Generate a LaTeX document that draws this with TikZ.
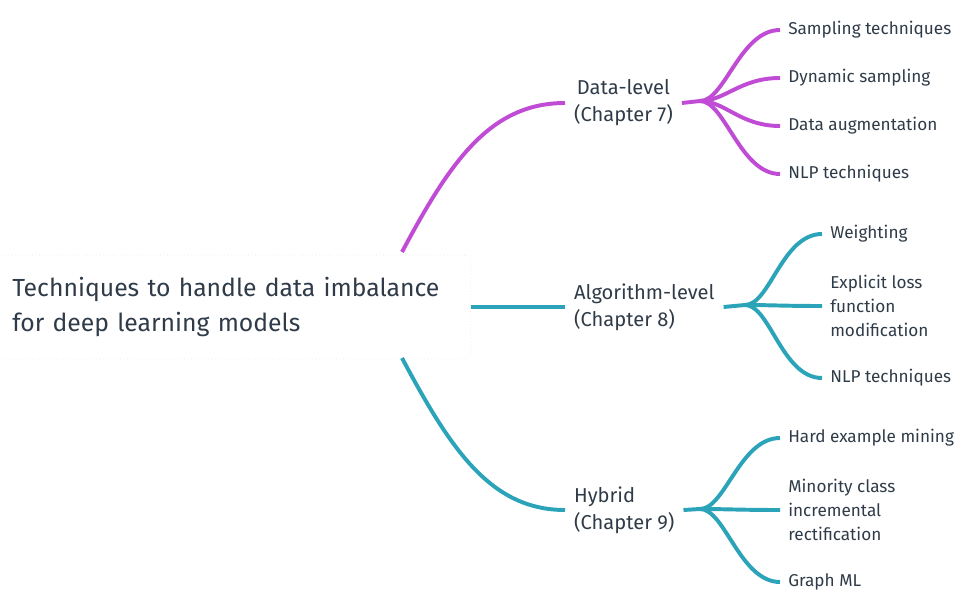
\documentclass[tikz,border=0pt]{standalone}
\usepackage{fontspec}
\setmainfont{Fira Sans}
\usetikzlibrary{positioning,calc}

\definecolor{datacol}{HTML}{C04BD5}
\definecolor{algocol}{HTML}{2BA3B9}
\definecolor{inkcol}{HTML}{2F3B48}

\begin{document}
\begin{tikzpicture}[x=0.025cm, y=-0.025cm,
    every node/.style={text=inkcol},
    rootbox/.style={draw=gray!25, dotted, rounded corners=4pt, anchor=west, align=left,
      text width=11.0cm, inner xsep=0.45cm, minimum height=2.6cm,
      font=\fontsize{17.6}{25.5}\selectfont},
    midbox/.style={anchor=west, align=left, inner xsep=0.22cm, font=\fontsize{14.3}{19.3}\selectfont},
    leafbox/.style={anchor=west, align=left, inner xsep=0.2cm, font=\fontsize{12.2}{17}\selectfont},
    branch/.style={line width=2.8pt}]
        \useasboundingbox (0,0) rectangle (972,609);
        % root
        \node[rootbox] (root) at (-6,307) {Techniques to handle data imbalance\\for deep learning models};
        \coordinate (rootT) at (402,252);
        \coordinate (rootB) at (402,358);
        % level nodes
        \node[midbox, align=center] (data) at (565,103) {Data-level\\(Chapter 7)};
        \node[midbox] (algo) at (565,307) {Algorithm-level\\(Chapter 8)};
        \node[midbox] (hyb) at (565,510) {Hybrid\\(Chapter 9)};
        \coordinate (dataB) at (700,101);
        \coordinate (algoB) at (745,305);
        \coordinate (hybB) at (700,509);
        % leaves
        \node[leafbox] (d1) at (780,30) {Sampling techniques};
        \node[leafbox] (d2) at (780,78) {Dynamic sampling};
        \node[leafbox] (d3) at (780,126) {Data augmentation};
        \node[leafbox] (d4) at (780,174) {NLP techniques};
        \node[leafbox] (a1) at (822,234) {Weighting};
        \node[leafbox] (a2) at (822,306) {Explicit loss\\function\\modification};
        \node[leafbox] (a3) at (822,378) {NLP techniques};
        \node[leafbox] (h1) at (780,438) {Hard example mining};
        \node[leafbox] (h2) at (780,510) {Minority class\\incremental\\rectification};
        \node[leafbox] (h3) at (780,582) {Graph ML};
        % connectors
        \draw[branch, datacol] (rootT) .. controls +(48,-90) and +(-75,0) .. (data.west);
        \draw[branch, algocol] (root.east) -- (algo.west);
        \draw[branch, algocol] (rootB) .. controls +(48,90) and +(-75,0) .. (hyb.west);
        \draw[branch, datacol] (data.east) -- (dataB);
        \draw[branch, algocol] (algo.east) -- (algoB);
        \draw[branch, algocol] (hyb.east) -- (hybB);
        \foreach \leaf in {d1,d2,d3,d4}
          \draw[branch, datacol] (dataB) .. controls +(25,0) and +(-40,0) .. (\leaf.west);
        \foreach \leaf in {a1,a2,a3}
          \draw[branch, algocol] (algoB) .. controls +(25,0) and +(-40,0) .. (\leaf.west);
        \foreach \leaf in {h1,h2,h3}
          \draw[branch, algocol] (hybB) .. controls +(25,0) and +(-40,0) .. (\leaf.west);
\end{tikzpicture}
\end{document}
